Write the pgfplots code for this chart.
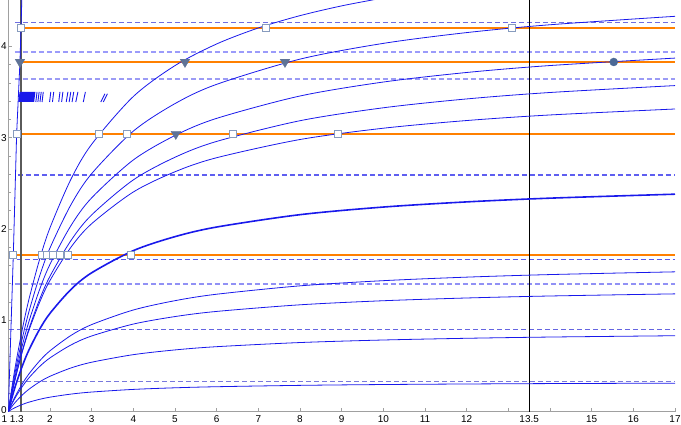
\documentclass[border=0pt]{standalone}
\usepackage{fontspec}
\setmainfont{Liberation Sans}
\usepackage{pgfplots}
\pgfplotsset{compat=1.18}

\definecolor{cblue}{RGB}{25,25,235}
\definecolor{corange}{RGB}{255,128,0}
\definecolor{axisgray}{RGB}{160,160,160}
\definecolor{sqedge}{RGB}{135,155,190}
\definecolor{trifill}{RGB}{95,115,150}
\definecolor{dotfill}{RGB}{75,105,150}

\begin{document}
\begin{tikzpicture}
\begin{axis}[
  name=ax, scale only axis, width=666.7bp, height=411.5bp,
  xmin=1, xmax=17, ymin=0, ymax=4.507,
  axis lines=left, axis line style={-, draw=axisgray, line width=0.8bp},
  tick align=inside, major tick length=4bp, minor tick length=2.5bp,
  tick style={axisgray, line width=0.6bp},
  xtick={2,3,4,5,6,7,8,9,10,11,12,13,13.5,14,15,16,17},
  xticklabels={2,3,4,5,6,7,8,9,10,11,12,,13.5,,15,16,17},
  extra x ticks={1,1.3},
  extra x tick labels={1,1.3},
  extra x tick style={xticklabel style={xshift=-4bp}},
  ytick={0,1,2,3,4}, yticklabels={\raisebox{3bp}{0},1,2,3,4}, minor y tick num=4,
  ticklabel style={font=\fontsize{10}{12}\selectfont},
  xticklabel style={inner sep=1bp, yshift=-2.8bp},
  yticklabel style={inner sep=1.5bp},
]

% horizontal dashed levels
\addplot[draw={rgb,255:red,110;green,110;blue,225}, line width=0.9bp, dash pattern=on 5bp off 3bp] coordinates {(1.16,4.26) (17,4.26)};
\addplot[draw={rgb,255:red,155;green,155;blue,250}, line width=1.8bp, dash pattern=on 5bp off 3bp] coordinates {(1.16,3.94) (17,3.94)};
\addplot[draw={rgb,255:red,155;green,155;blue,245}, line width=1.5bp, dash pattern=on 5bp off 3bp] coordinates {(1.16,3.64) (17,3.64)};
\addplot[draw={rgb,255:red,95;green,95;blue,240}, line width=1.9bp, dash pattern=on 5bp off 3bp] coordinates {(1.23,2.59) (17,2.59)};
\addplot[draw={rgb,255:red,90;green,90;blue,230}, line width=0.9bp, dash pattern=on 5bp off 3bp] coordinates {(1.2,1.67) (17,1.67)};
\addplot[draw={rgb,255:red,145;green,145;blue,245}, line width=1.3bp, dash pattern=on 5bp off 3bp] coordinates {(1.16,1.396) (17,1.396)};
\addplot[draw={rgb,255:red,100;green,100;blue,225}, line width=0.9bp, dash pattern=on 5bp off 3bp] coordinates {(1.02,0.904) (17,0.904)};
\addplot[draw={rgb,255:red,120;green,120;blue,220}, line width=0.9bp, dash pattern=on 5bp off 3bp] coordinates {(1.05,0.334) (17,0.334)};

% orange levels
\addplot[corange, line width=2.8bp] coordinates {(1.2,4.20) (17,4.20)};
\addplot[corange, line width=2.8bp] coordinates {(1.2,3.828) (17,3.828)};
\addplot[corange, line width=2.8bp] coordinates {(1.16,3.039) (17,3.039)};
\addplot[corange, line width=2.8bp] coordinates {(1.04,1.714) (17,1.714)};

% vertical lines
\addplot[draw={rgb,255:red,90;green,90;blue,90}, line width=2bp] coordinates {(1.3,0) (1.3,4.507)};
\addplot[black, line width=1.2bp] coordinates {(13.5,0) (13.5,4.507)};

% short hatch marks near y = 3.44
\addplot[cblue, fill=cblue, draw=none] coordinates {(1.24,3.39) (1.62,3.39) (1.65,3.50) (1.27,3.50)} -- cycle;
\addplot[cblue, line width=0.9bp, unbounded coords=jump] coordinates {
(1.66,3.39) (1.69,3.50) (1.69,nan)
(1.71,3.39) (1.74,3.50) (1.74,nan)
(1.76,3.39) (1.79,3.50) (1.79,nan)
(1.81,3.39) (1.84,3.50) (1.84,nan)
(1.99,3.39) (2.02,3.50) (2.02,nan)
(2.06,3.39) (2.09,3.50) (2.09,nan)
(2.21,3.39) (2.24,3.50) (2.24,nan)
(2.28,3.39) (2.31,3.50) (2.31,nan)
(2.39,3.39) (2.43,3.50) (2.43,nan)
(2.46,3.39) (2.50,3.50) (2.50,nan)
(2.53,3.39) (2.57,3.50) (2.57,nan)
(2.62,3.39) (2.67,3.50) (2.67,nan)
(2.80,3.39) (2.85,3.50) (2.85,nan)
(3.22,3.39) (3.32,3.48) (3.32,nan)
(3.28,3.39) (3.38,3.48)
};

% saturating curves
\addplot[cblue, line width=0.8bp, smooth] coordinates {(1,0) (1.1,0.0273) (1.2,0.0505) (1.35,0.0793) (1.5,0.1027) (1.75,0.1334) (2,0.1569) (2.5,0.1904) (3,0.2131) (4,0.2420) (5,0.2596) (6,0.2714) (8,0.2863) (10,0.2954) (12,0.3014) (14,0.3058) (17,0.3104)};
\addplot[cblue, line width=0.8bp, smooth] coordinates {(1,0) (1.1,0.0628) (1.2,0.1174) (1.35,0.1871) (1.5,0.2454) (1.75,0.3239) (2,0.3855) (2.5,0.4762) (3,0.5396) (4,0.6226) (5,0.6744) (6,0.7099) (8,0.7553) (10,0.7831) (12,0.8019) (14,0.8155) (17,0.8299)};
\addplot[cblue, line width=0.8bp, smooth] coordinates {(1,0) (1.1,0.0942) (1.2,0.1765) (1.35,0.2823) (1.5,0.3712) (1.75,0.4916) (2,0.5868) (2.5,0.7277) (3,0.8269) (4,0.9576) (5,1.0397) (6,1.0961) (8,1.1686) (10,1.2132) (12,1.2433) (14,1.2651) (17,1.2884)};
\addplot[cblue, line width=0.8bp, smooth] coordinates {(1,0) (1.1,0.1034) (1.2,0.1948) (1.35,0.3135) (1.5,0.4146) (1.75,0.5534) (2,0.6647) (2.5,0.8320) (3,0.9517) (4,1.1117) (5,1.2138) (6,1.2845) (8,1.3762) (10,1.4330) (12,1.4716) (14,1.4997) (17,1.5297)};
\addplot[cblue, line width=1.6bp, smooth] coordinates {(1,0) (1.1,0.1715) (1.2,0.3217) (1.35,0.5151) (1.5,0.6780) (1.75,0.8993) (2,1.0747) (2.5,1.3351) (3,1.5191) (4,1.7619) (5,1.9150) (6,2.0203) (8,2.1558) (10,2.2392) (12,2.2957) (14,2.3366) (17,2.3802)};
\addplot[cblue, line width=0.8bp, smooth] coordinates {(1,0) (1.1,0.2227) (1.2,0.4197) (1.35,0.6758) (1.5,0.8941) (1.75,1.1941) (2,1.4348) (2.5,1.7970) (3,2.0567) (4,2.4040) (5,2.6257) (6,2.7795) (8,2.9789) (10,3.1026) (12,3.1868) (14,3.2478) (17,3.3132)};
\addplot[cblue, line width=0.8bp, smooth] coordinates {(1,0) (1.1,0.2239) (1.2,0.4237) (1.35,0.6861) (1.5,0.9120) (1.75,1.2261) (2,1.4812) (2.5,1.8703) (3,2.1530) (4,2.5365) (5,2.7845) (6,2.9580) (8,3.1848) (10,3.3265) (12,3.4234) (14,3.4939) (17,3.5696)};
\addplot[cblue, line width=0.8bp, smooth] coordinates {(1,0) (1.1,0.2440) (1.2,0.4616) (1.35,0.7473) (1.5,0.9930) (1.75,1.3344) (2,1.6113) (2.5,2.0333) (3,2.3397) (4,2.7548) (5,3.0230) (6,3.2105) (8,3.4555) (10,3.6085) (12,3.7131) (14,3.7891) (17,3.8708)};
\addplot[cblue, line width=0.8bp, smooth] coordinates {(1,0) (1.1,0.2701) (1.2,0.5112) (1.35,0.8282) (1.5,1.1014) (1.75,1.4814) (2,1.7903) (2.5,2.2618) (3,2.6049) (4,3.0707) (5,3.3721) (6,3.5832) (8,3.8593) (10,4.0319) (12,4.1500) (14,4.2359) (17,4.3283)};
\addplot[cblue, line width=0.8bp, smooth] coordinates {(1,0) (1.1,0.3034) (1.2,0.5743) (1.35,0.9304) (1.5,1.2373) (1.75,1.6643) (2,2.0112) (2.5,2.5410) (3,2.9264) (4,3.4497) (5,3.7884) (6,4.0255) (7,4.2008) (8,4.3356) (9,4.4426) (10,4.5295)};
% nearly vertical curve
\addplot[cblue, line width=0.8bp] coordinates {(1,0) (1.12,1.71) (1.2,3.04) (1.28,3.83) (1.305,4.2) (1.33,4.6)};

% markers
\addplot[only marks, mark=square*, mark size=3.5bp, mark options={draw=sqedge, fill=white, line width=1bp}] coordinates {
(1.12,1.714) (1.80,1.714) (1.92,1.714) (2.08,1.714) (2.24,1.714) (2.44,1.714) (3.95,1.714)
(1.2,3.039) (3.18,3.039) (3.85,3.039) (6.39,3.039) (8.91,3.039)
(1.305,4.20) (7.18,4.20) (13.09,4.20)};
\addplot[only marks, mark=triangle*, mark size=5.5bp, mark options={draw=trifill, fill=trifill, rotate=180}] coordinates {
(5.02,3.039) (1.28,3.828) (5.24,3.828) (7.64,3.828)};
\addplot[only marks, mark=*, mark size=4bp, mark options={draw=dotfill, fill=dotfill}] coordinates {(15.53,3.828)};
\end{axis}
\pgfresetboundingbox
\path ([xshift=-8.3bp,yshift=-13.5bp]ax.south west) rectangle ([xshift=6bp]ax.north east);
\end{tikzpicture}
\end{document}
